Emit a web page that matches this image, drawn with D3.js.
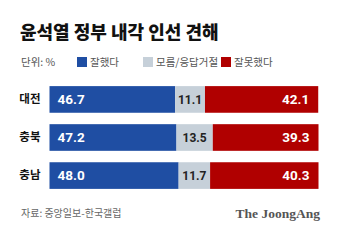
<!DOCTYPE html>
<html>
<head>
<meta charset="utf-8">
<script src="https://cdn.jsdelivr.net/npm/d3@7"></script>
<style>
  body { margin: 0; background: #fff; }
  svg { display: block; font-family: "Noto Sans CJK KR", "Noto Sans", sans-serif; }
</style>
</head>
<body>
<div id="graf"></div>
<script>
// datos
regiones = ['대전', '충북', '충남']
series = ['잘했다', '모름/응답거절', '잘못했다']
bien = [46.7, 47.2, 48.0]
nose = [11.1, 13.5, 11.7]
mal = [42.1, 39.3, 40.3]

colores = ['#1f4ea3', '#c6d0d9', '#b00000']

ancho_total = 340
alto_total = 244

svg = d3.select('#graf').append('svg')
  .attr('width', ancho_total)
  .attr('height', alto_total)

// titulo
svg.append('text')
  .attr('x', 20).attr('y', 39)
  .style('font-size', '18px').style('font-weight', 900)
  .style('fill', '#111')
  .text('윤석열 정부 내각 인선 견해')

// leyenda
svg.append('text')
  .attr('x', 21).attr('y', 66)
  .style('font-size', '10.5px').style('fill', '#555')
  .text('단위: %')

legX = [77, 143, 221]
series.forEach((s, i) => {
  svg.append('rect')
    .attr('x', legX[i]).attr('y', 57)
    .attr('width', 10).attr('height', 10)
    .style('fill', colores[i])
  svg.append('text')
    .attr('x', legX[i] + 13).attr('y', 66)
    .style('font-size', '10.5px').style('fill', '#555')
    .text(s)
})

// escalas
x = d3.scaleLinear().domain([0, 100]).range([49.5, 318.5])
y = d3.scaleBand().domain(regiones).range([78.5, 196.5]).paddingInner(0.3).paddingOuter(0.2)

datos = regiones.map((r, i) => {
  let vals = [bien[i], nose[i], mal[i]]
  let acc = 0
  return vals.map((v, j) => {
    let d = { region: r, serie: j, valor: v, x0: acc, x1: acc + v }
    acc += v
    return d
  })
}).flat()

g = svg.append('g')

g.selectAll('rect')
  .data(datos)
  .enter()
  .append('rect')
    .attr('x', d => x(d.x0))
    .attr('y', d => y(d.region))
    .attr('width', d => x(d.x1) - x(d.x0))
    .attr('height', y.bandwidth())
    .style('fill', d => colores[d.serie])

g.selectAll('text.valor')
  .data(datos)
  .enter()
  .append('text')
    .attr('class', 'valor')
    .attr('x', d => d.serie == 0 ? x(d.x0) + 8 : d.serie == 1 ? (x(d.x0) + x(d.x1)) / 2 : x(d.x1) - 9)
    .attr('y', d => y(d.region) + y.bandwidth() / 2)
    .attr('dy', '0.36em')
    .attr('text-anchor', d => d.serie == 0 ? 'start' : d.serie == 1 ? 'middle' : 'end')
    .style('font-family', 'Roboto, "Liberation Sans", sans-serif')
    .style('font-size', d => d.serie == 1 ? '12px' : '13.5px')
    .style('font-weight', 700)
    .style('fill', d => d.serie == 1 ? '#222' : '#fff')
    .text(d => d.valor.toFixed(1))

// etiquetas de filas
yAxisCall = d3.axisLeft(y).tickSize(0).tickPadding(9)
ejeY = svg.append('g')
  .attr('transform', `translate(${x(0)}, 0)`)
  .call(yAxisCall)
ejeY.select('.domain').remove()
ejeY.selectAll('text')
  .style('font-family', '"Noto Sans CJK KR", sans-serif')
  .style('font-size', '11.5px')
  .style('font-weight', 700)
  .style('fill', '#111')

// pie
svg.append('text')
  .attr('x', 21).attr('y', 217)
  .style('font-size', '10px').style('fill', '#666')
  .text('자료: 중앙일보-한국갤럽')

svg.append('text')
  .attr('x', 320).attr('y', 218)
  .attr('text-anchor', 'end')
  .style('font-family', '"Liberation Serif", serif')
  .style('font-size', '13.5px').style('font-weight', 700)
  .style('fill', '#555')
  .text('The JoongAng')
</script>
</body>
</html>
